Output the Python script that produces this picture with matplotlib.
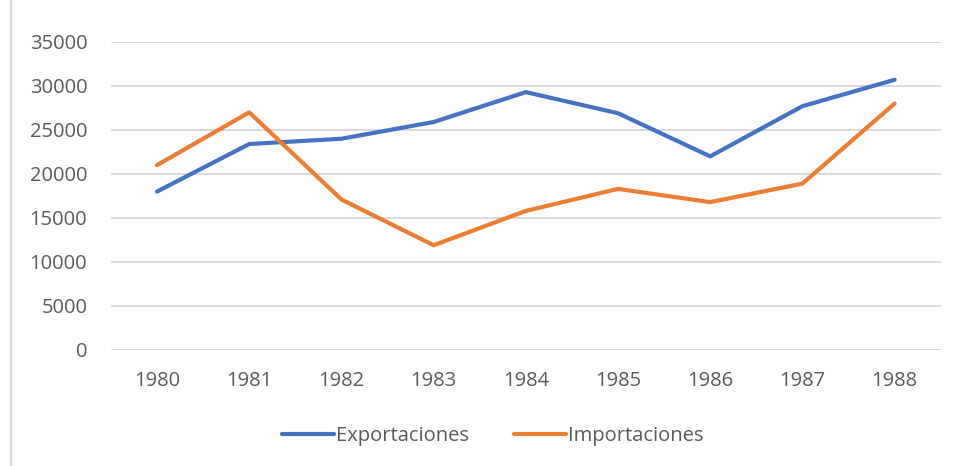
import matplotlib.pyplot as plt
from matplotlib.lines import Line2D

# datos
years = ['1980', '1981', '1982', '1983', '1984', '1985', '1986', '1987', '1988']
exportaciones = [18000, 23400, 24000, 25900, 29300, 26900, 22000, 27700, 30700]
importaciones = [21000, 27000, 17100, 11900, 15800, 18300, 16800, 18900, 28000]

plt.rcParams['font.family'] = ['Open Sans', 'DejaVu Sans']

fig = plt.figure(figsize=(9.56, 4.66), dpi=100)
ax = fig.add_axes([0.116, 0.249, 0.868, 0.661])

x = range(len(years))
ax.plot(x, exportaciones, color='#4472C4', lw=3, solid_capstyle='round',
        solid_joinstyle='round', label='Exportaciones', clip_on=False, zorder=3)
ax.plot(x, importaciones, color='#ED7D31', lw=3, solid_capstyle='round',
        solid_joinstyle='round', label='Importaciones', clip_on=False, zorder=3)

ax.set_xlim(-0.5, len(years) - 0.5)
ax.set_ylim(0, 35000)
ax.set_yticks(range(0, 35001, 5000))
ax.set_xticks(list(x))
ax.set_xticklabels(years)
ax.yaxis.grid(True, color='#d9d9d9', lw=1.4)
ax.set_axisbelow(True)
for s in ax.spines.values():
    s.set_visible(False)
ax.tick_params(length=0, labelsize=14.5, colors='#595959')
ax.tick_params(axis='y', pad=17)
ax.tick_params(axis='x', pad=15)

ax.legend(loc='center', bbox_to_anchor=(0.46, -0.28), ncol=2, frameon=False,
          fontsize=14.5, labelcolor='#595959', handlelength=2.6, handletextpad=0.1,
          columnspacing=2.2)

# borde gris a la izquierda
fig.add_artist(Line2D([0.0115, 0.0115], [0, 1], color='#d9d9d9', lw=1.5))

fig.savefig('out.png')
